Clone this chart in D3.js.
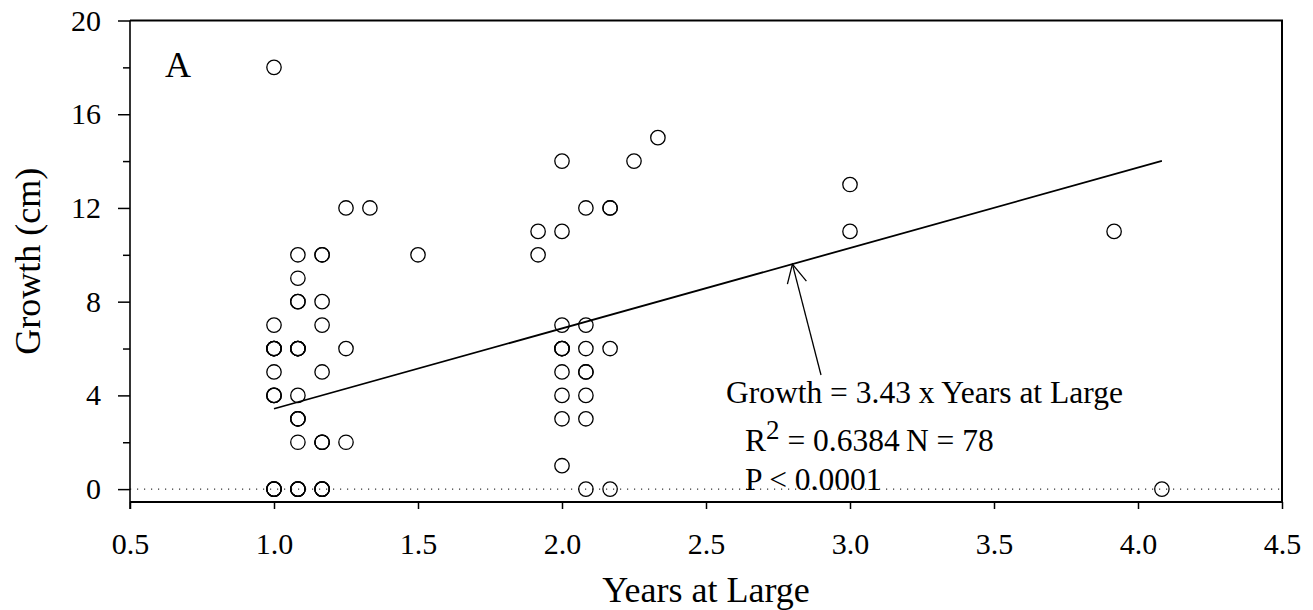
<!DOCTYPE html>
<html>
<head>
<meta charset="utf-8">
<script src="https://cdn.jsdelivr.net/npm/d3@7"></script>
<style>
  body { margin: 0; background: #fff; }
  svg { font-family: "Liberation Serif", "Times New Roman", serif; }
  .tick text { font-size: 30px; fill: #000; }
  .tick line { stroke: #000; stroke-width: 1.5; }
</style>
</head>
<body>
<div id="chart"></div>
<script>
// years at large (x) and growth in cm (y), one entry per fish (N = 78)
const years = [
  1.0, 1.0, 1.0, 1.0, 1.0, 1.0, 1.0, 1.0, 1.0, 1.0, 1.0, 1.0, 1.0, 1.0,
  1.083, 1.083, 1.083, 1.083, 1.083, 1.083, 1.083, 1.083, 1.083, 1.083, 1.083, 1.083, 1.083, 1.083, 1.083, 1.083, 1.083,
  1.167, 1.167, 1.167, 1.167, 1.167, 1.167, 1.167, 1.167, 1.167, 1.167, 1.167, 1.167,
  1.25, 1.25, 1.25,
  1.333,
  1.5,
  1.917, 1.917,
  2.0, 2.0, 2.0, 2.0, 2.0, 2.0, 2.0, 2.0, 2.0, 2.0,
  2.083, 2.083, 2.083, 2.083, 2.083, 2.083, 2.083, 2.083,
  2.167, 2.167, 2.167, 2.167,
  2.25, 2.333, 3.0, 3.0, 3.917, 4.083
];
const growth = [
  18, 7, 6, 6, 6, 6, 5, 4, 4, 4, 0, 0, 0, 0,
  10, 9, 8, 8, 6, 6, 6, 6, 4, 3, 3, 3, 2, 0, 0, 0, 0,
  10, 10, 8, 7, 5, 2, 2, 2, 0, 0, 0, 0,
  12, 6, 2,
  12,
  10,
  11, 10,
  14, 11, 7, 6, 6, 6, 5, 4, 3, 1,
  12, 7, 6, 5, 5, 4, 3, 0,
  12, 12, 6, 0,
  14, 15, 13, 11, 11, 0
];

const xTicks = [0.5, 1.0, 1.5, 2.0, 2.5, 3.0, 3.5, 4.0, 4.5];
const yTicks = [0, 4, 8, 12, 16, 20];
const yMinorTicks = [2, 6, 10, 14, 18];

const slope = 3.43;
const fitRange = [1.0, 4.083];
const arrowAt = 2.8;

const w = 1313;
const h = 610;
const padL = 130, padR = 1282, padT = 20.5, padB = 502;

const xScale = d3.scaleLinear()
                .domain([0.5, 4.5])
                .range([padL, padR]);

const yScale = d3.scaleLinear()
                .domain([-0.55, 20])
                .range([padB, padT]);

const svg = d3.select("#chart")
                .append("svg")
                .attr("width", w)
                .attr("height", h);

// zero reference line
svg.append("line")
    .attr("x1", padL).attr("x2", padR)
    .attr("y1", yScale(0)).attr("y2", yScale(0))
    .attr("stroke", "#000")
    .attr("stroke-width", 1)
    .attr("stroke-dasharray", "1.2,5.8");

// frame
svg.append("path")
    .attr("d", `M${padL},${padT}H${padR}V${padB}`)
    .attr("fill", "none")
    .attr("stroke", "#000")
    .attr("stroke-width", 2);

const xAxis = d3.axisBottom(xScale)
                .tickValues(xTicks)
                .tickFormat(d3.format(".1f"))
                .tickSize(7)
                .tickSizeOuter(0)
                .tickPadding(24);

const yAxis = d3.axisLeft(yScale)
                .tickValues(yTicks)
                .tickFormat(d3.format("d"))
                .tickSize(12)
                .tickSizeOuter(0)
                .tickPadding(17);

const yMinor = d3.axisLeft(yScale)
                .tickValues(yMinorTicks)
                .tickFormat("")
                .tickSize(7)
                .tickSizeOuter(0);

svg.append("g")
    .attr("id", "x-axis")
    .attr("transform", "translate(0," + padB + ")")
    .call(xAxis)
    .call(g => g.select(".domain").remove());

svg.append("g")
    .attr("id", "y-axis")
    .attr("transform", "translate(" + padL + ",0)")
    .call(yAxis)
    .call(g => g.select(".domain").remove());

svg.append("g")
    .attr("transform", "translate(" + padL + ",0)")
    .call(yMinor)
    .call(g => g.select(".domain").remove());

svg.selectAll("#x-axis, #y-axis").attr("font-family", null).attr("font-size", null);

// axis lines
svg.append("line")
    .attr("x1", padL).attr("x2", padR)
    .attr("y1", padB).attr("y2", padB)
    .attr("stroke", "#000").attr("stroke-width", 2);

svg.append("line")
    .attr("x1", padL).attr("x2", padL)
    .attr("y1", padT).attr("y2", padB + 7)
    .attr("stroke", "#000").attr("stroke-width", 1.6);

// axis titles
svg.append("text")
    .text("Years at Large")
    .attr("x", (padL + padR) / 2)
    .attr("y", 602)
    .style("text-anchor", "middle")
    .style("font-size", "36px");

svg.append("text")
    .text("Growth (cm)")
    .attr("transform", "rotate(-90)")
    .attr("x", -(padT + padB) / 2)
    .attr("y", 40)
    .style("text-anchor", "middle")
    .style("font-size", "36px");

svg.append("text")
    .text("A")
    .attr("x", 165)
    .attr("y", 77)
    .style("font-size", "36px");

// regression line
svg.append("line")
    .attr("x1", xScale(fitRange[0]))
    .attr("y1", yScale(slope * fitRange[0]))
    .attr("x2", xScale(fitRange[1]))
    .attr("y2", yScale(slope * fitRange[1]))
    .attr("stroke", "#000")
    .attr("stroke-width", 1.8);

// points
svg.selectAll("circle")
    .data(years)
    .enter()
    .append("circle")
    .attr("cx", d => xScale(d))
    .attr("cy", (d, i) => yScale(growth[i]))
    .attr("r", 7.2)
    .attr("fill", "none")
    .attr("stroke", "#000")
    .attr("stroke-width", 1.3);

// arrow to the fitted line
const tipX = xScale(arrowAt), tipY = yScale(slope * arrowAt);
svg.append("line")
    .attr("x1", 821).attr("y1", 375)
    .attr("x2", tipX).attr("y2", tipY)
    .attr("stroke", "#000").attr("stroke-width", 1.3);

svg.append("path")
    .attr("d", `M${tipX - 5},${tipY + 20}L${tipX},${tipY}L${tipX + 14},${tipY + 17}`)
    .attr("fill", "none")
    .attr("stroke", "#000").attr("stroke-width", 1.3);

// statistics
const stats = svg.append("g").style("font-size", "31.5px");

stats.append("text")
    .text("Growth = " + slope + " x Years at Large")
    .attr("x", 726)
    .attr("y", 403);

const r2 = stats.append("text")
    .attr("x", 745)
    .attr("y", 451);
r2.append("tspan").text("R");
r2.append("tspan").text("2").attr("dy", -12).style("font-size", "27px");
r2.append("tspan").text(" = 0.6384").attr("dy", 12);

stats.append("text")
    .text("N = 78")
    .attr("x", 906)
    .attr("y", 451);

stats.append("text")
    .text("P < 0.0001")
    .attr("x", 745)
    .attr("y", 490);
</script>
</body>
</html>
